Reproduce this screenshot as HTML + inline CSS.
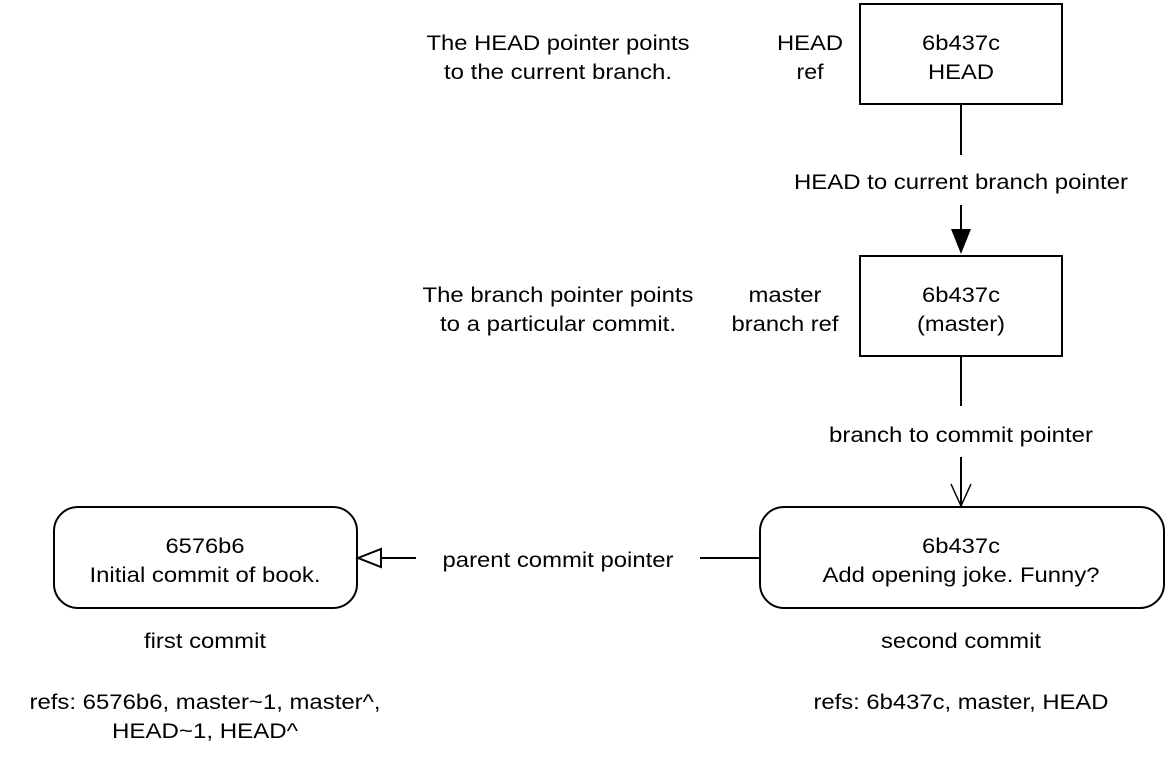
<!DOCTYPE html>
<html><head><meta charset="utf-8"><style>
html,body{margin:0;padding:0;background:#fff}
svg{display:block}
text{font-family:"Liberation Sans",Arial,sans-serif;font-size:21px;fill:#000;text-anchor:middle}
</style></head><body>
<svg width="1166" height="762" viewBox="0 0 1166 762" xmlns="http://www.w3.org/2000/svg">
<g fill="none" stroke="#000" stroke-width="2">
<rect x="860" y="4" width="202" height="100"/>
<rect x="860" y="256" width="202" height="100"/>
<rect x="54" y="507" width="303" height="101" rx="24"/>
<rect x="760" y="507" width="404" height="101" rx="24"/>
<line x1="961" y1="104" x2="961" y2="155"/>
<line x1="961" y1="205" x2="961" y2="232"/>
<line x1="961" y1="356" x2="961" y2="406"/>
<line x1="961" y1="457" x2="961" y2="506"/>
<polyline points="951,484 961,506 971,484" stroke-width="1.5"/>
<line x1="700" y1="558" x2="760" y2="558"/>
<line x1="380" y1="558" x2="416" y2="558"/>
<polygon points="358,558 381,549 381,567" fill="#fff"/>
</g>
<polygon points="951,229 971,229 961,254" fill="#000"/>
<g lengthAdjust="spacingAndGlyphs">
<text x="961" y="50" textLength="78" lengthAdjust="spacingAndGlyphs">6b437c</text>
<text x="961" y="79" textLength="66" lengthAdjust="spacingAndGlyphs">HEAD</text>
<text x="961" y="302" textLength="78" lengthAdjust="spacingAndGlyphs">6b437c</text>
<text x="961" y="331" textLength="88" lengthAdjust="spacingAndGlyphs">(master)</text>
<text x="961" y="189" textLength="334" lengthAdjust="spacingAndGlyphs">HEAD to current branch pointer</text>
<text x="961" y="442" textLength="264" lengthAdjust="spacingAndGlyphs">branch to commit pointer</text>
<text x="810" y="50" textLength="66" lengthAdjust="spacingAndGlyphs">HEAD</text>
<text x="810" y="79" textLength="27" lengthAdjust="spacingAndGlyphs">ref</text>
<text x="785" y="302" textLength="73" lengthAdjust="spacingAndGlyphs">master</text>
<text x="785" y="331" textLength="107" lengthAdjust="spacingAndGlyphs">branch ref</text>
<text x="558" y="50" textLength="263" lengthAdjust="spacingAndGlyphs">The HEAD pointer points</text>
<text x="558" y="79" textLength="228" lengthAdjust="spacingAndGlyphs">to the current branch.</text>
<text x="558" y="302" textLength="271" lengthAdjust="spacingAndGlyphs">The branch pointer points</text>
<text x="558" y="331" textLength="236" lengthAdjust="spacingAndGlyphs">to a particular commit.</text>
<text x="205" y="553" textLength="79" lengthAdjust="spacingAndGlyphs">6576b6</text>
<text x="205" y="582" textLength="231" lengthAdjust="spacingAndGlyphs">Initial commit of book.</text>
<text x="961" y="553" textLength="78" lengthAdjust="spacingAndGlyphs">6b437c</text>
<text x="961" y="582" textLength="277" lengthAdjust="spacingAndGlyphs">Add opening joke. Funny?</text>
<text x="558" y="567" textLength="231" lengthAdjust="spacingAndGlyphs">parent commit pointer</text>
<text x="205" y="648" textLength="122" lengthAdjust="spacingAndGlyphs">first commit</text>
<text x="961" y="648" textLength="160" lengthAdjust="spacingAndGlyphs">second commit</text>
<text x="205" y="709" textLength="351" lengthAdjust="spacingAndGlyphs">refs: 6576b6, master~1, master^,</text>
<text x="205" y="738" textLength="186" lengthAdjust="spacingAndGlyphs">HEAD~1, HEAD^</text>
<text x="961" y="709" textLength="295" lengthAdjust="spacingAndGlyphs">refs: 6b437c, master, HEAD</text>
</g>
</svg>
</body></html>
